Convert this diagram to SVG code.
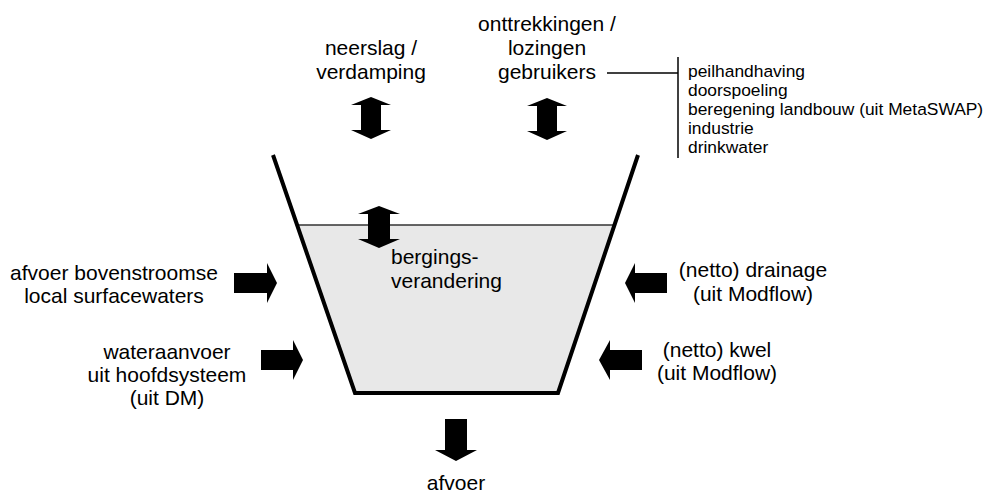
<svg xmlns="http://www.w3.org/2000/svg" width="991" height="493" viewBox="0 0 991 493">
<style>
text{font-family:"Liberation Sans",Arial,sans-serif;fill:#000}
.lbl{font-size:21px}
.c{text-anchor:middle}
.sm{font-size:17.4px}
.arr{fill:#000}
.ln{stroke:#000;stroke-width:1.5;fill:none}
</style>
<rect width="991" height="493" fill="#fff"/>
<g id="bucket">
<polygon points="297,225 614.7,225 558,393 355,393" fill="#e8e8e8"/>
<line x1="297" y1="225" x2="615" y2="225" stroke="#333" stroke-width="1.5"/>
<polyline points="273,155 355,393 558,393 638,155" fill="none" stroke="#000" stroke-width="4"/>
</g>
<g id="connectors">
<polygon class="arr" points="371,97 391,105 381,105 381,130 391,130 371,139 351,130 361,130 361,105 351,105"/>
<polygon class="arr" points="547,98 567,106 557,106 557,131 567,131 547,140 527,131 537,131 537,106 527,106"/>
<polygon class="arr" points="379,206 400,214 390,214 390,239 400,239 379,248 358,239 368,239 368,214 358,214"/>
<polygon class="arr" points="234,273 267,273 267,263 277,283 267,303 267,293 234,293"/>
<polygon class="arr" points="261,350 293,350 293,340 303,360 293,380 293,370 261,370"/>
<polygon class="arr" points="667,273 635,273 635,263 625,283 635,303 635,293 667,293"/>
<polygon class="arr" points="642,350 610,350 610,340 599,360 610,380 610,370 642,370"/>
<polygon class="arr" points="445,419 467,419 467,450 477,450 456,461 435,450 445,450"/>
<polyline class="ln" points="607,73 678,73"/>
<line class="ln" x1="678" y1="57" x2="678" y2="158"/>
</g>
<g id="neerslag"><text class="lbl c" x="371" y="55">neerslag /</text><text class="lbl c" x="371" y="79">verdamping</text></g>
<g id="onttrekkingen"><text class="lbl c" x="547" y="31">onttrekkingen /</text><text class="lbl c" x="547" y="55">lozingen</text><text class="lbl c" x="547" y="79">gebruikers</text></g>
<g id="gebruikers-lijst">
<text class="sm" x="688" y="77">peilhandhaving</text>
<text class="sm" x="688" y="96">doorspoeling</text>
<text class="sm" x="688" y="115">beregening landbouw (uit MetaSWAP)</text>
<text class="sm" x="688" y="134">industrie</text>
<text class="sm" x="688" y="153">drinkwater</text>
</g>
<g id="afvoer-boven"><text class="lbl c" x="114" y="280">afvoer bovenstroomse</text><text class="lbl c" x="114" y="303">local surfacewaters</text></g>
<g id="wateraanvoer"><text class="lbl c" x="167" y="359">wateraanvoer</text><text class="lbl c" x="167" y="382">uit hoofdsysteem</text><text class="lbl c" x="167" y="405">(uit DM)</text></g>
<g id="drainage"><text class="lbl c" x="753" y="277">(netto) drainage</text><text class="lbl c" x="753" y="301">(uit Modflow)</text></g>
<g id="kwel"><text class="lbl c" x="717" y="357">(netto) kwel</text><text class="lbl c" x="717" y="380">(uit Modflow)</text></g>
<g id="berging"><text class="lbl" x="391" y="264">bergings-</text><text class="lbl" x="391" y="288">verandering</text></g>
<g id="afvoer"><text class="lbl c" x="456" y="490">afvoer</text></g>
</svg>
